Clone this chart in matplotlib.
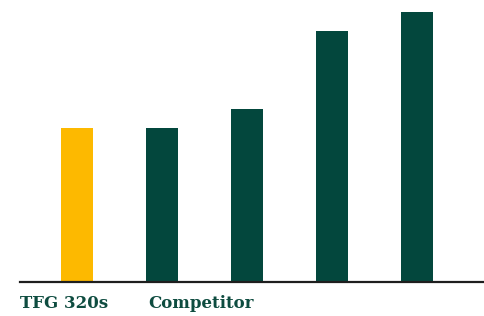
import matplotlib
matplotlib.use('Agg')
import matplotlib.pyplot as plt

# --- data ---
products = ['TFG 320s', 'Competitor A', 'Competitor B', 'Competitor C', 'Competitor D']
values = [57, 57, 64, 93, 100]
bar_colors = ['#fdb900', '#03473d', '#03473d', '#03473d', '#03473d']

W, H = 484, 316
fig = plt.figure(figsize=(W / 100, H / 100), dpi=100)
# axes from x=20px to 483px, baseline at y=282px
ax = fig.add_axes([20 / W, (H - 282) / H, 463 / W, 282 / H])

x = list(range(len(products)))
ax.bar(x, values, width=32 / 85, color=bar_colors, zorder=2)

ax.set_xlim(-57 / 85, 4 + 66 / 85)
ax.set_ylim(0, 100 * 282 / 270)

for s in ['top', 'right', 'left']:
    ax.spines[s].set_visible(False)
ax.spines['bottom'].set_color('#1e1e1e')
ax.spines['bottom'].set_linewidth(1.6)
ax.set_xticks([])
ax.set_yticks([])

# labels under the axis
label_font = dict(family='DejaVu Serif', weight='bold', size=12, color='#0e4c40')
fig.text(20 / W, (H - 303) / H, 'TFG 320s', ha='left', va='center', **label_font)
fig.text(148 / W, (H - 303) / H, 'Competitor', ha='left', va='center', **label_font)

fig.savefig('out.png', dpi=100)
